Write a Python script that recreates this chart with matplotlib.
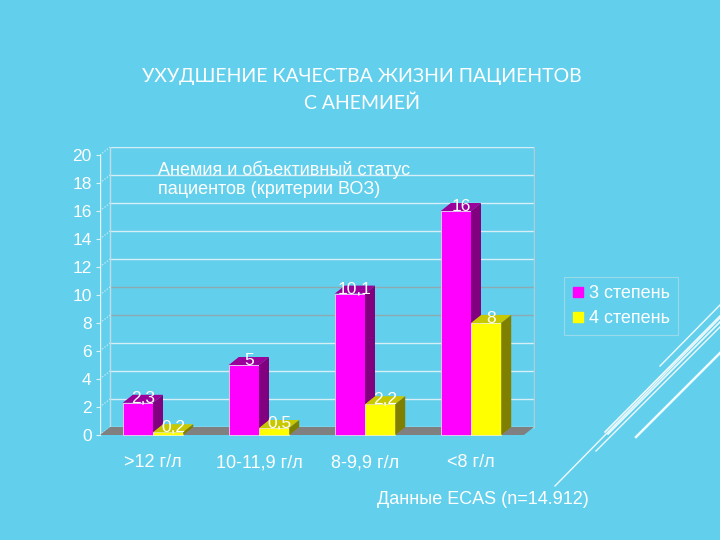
import matplotlib
matplotlib.use("Agg")
import matplotlib.pyplot as plt
from matplotlib.patches import Polygon
from matplotlib.lines import Line2D

categories = [">12 г/л", "10-11,9 г/л", "8-9,9 г/л", "<8 г/л"]
grade3 = [2.3, 5, 10.1, 16]
grade4 = [0.2, 0.5, 2.2, 8]
labels3 = ["2,3", "5", "10,1", "16"]
labels4 = ["0,2", "0,5", "2,2", "8"]
series_names = ["3 степень", "4 степень"]
yticks = [0, 2, 4, 6, 8, 10, 12, 14, 16, 18, 20]

BG = "#62d0ec"
plt.rcParams["font.family"] = ["Liberation Sans", "DejaVu Sans"]

fig = plt.figure(figsize=(7.2, 5.4), dpi=100)
fig.patch.set_facecolor(BG)

ax = fig.add_axes([100 / 720, (540 - 437.8) / 540, 434.6 / 720, 291.2 / 540])
ax.set_facecolor("none")
ax.set_xlim(-0.5, 3.6)
ax.set_ylim(-0.2, 20.6)
for s in ax.spines.values():
    s.set_visible(False)

dx = 10 / 106
dy = 8 / 14
bw = 0.285

# back wall gridlines
for v in yticks:
    col = "#d6eef6" if v not in (8, 10) else "#8fa9b2"
    ax.plot([-0.5 + dx, 3.5 + dx], [v + dy, v + dy], color=col, lw=1, zorder=1)
    ax.plot([-0.5, -0.5 + dx], [v, v + dy], color="#e0f4fa", lw=0.8, ls=":", zorder=1)
ax.plot([-0.5 + dx, -0.5 + dx], [dy, 20 + dy], color="#c0dde6", lw=1, zorder=1)
ax.plot([3.5 + dx, 3.5 + dx], [dy, 20 + dy], color="#b0ccd6", lw=1, zorder=1)
ax.plot([-0.5, -0.5], [0, 20], color="#e8f6fb", lw=1, zorder=1)

# floor
ax.add_patch(Polygon([(-0.5, 0), (3.5, 0), (3.5 + dx, dy), (-0.5 + dx, dy)],
                     closed=True, facecolor="#808080", edgecolor="none", zorder=2))


def bar3d(x0, h, front, top, side, edge):
    x1 = x0 + bw
    ax.bar(x0, h, width=bw, align="edge", color=front, edgecolor=edge, linewidth=0.6, zorder=3)
    ax.add_patch(Polygon([(x0, h), (x1, h), (x1 + dx, h + dy), (x0 + dx, h + dy)], closed=True,
                         facecolor=top, edgecolor="none", zorder=3))
    ax.add_patch(Polygon([(x1, 0), (x1 + dx, dy), (x1 + dx, h + dy), (x1, h)], closed=True,
                         facecolor=side, edgecolor="none", zorder=3))


for i in range(len(categories)):
    bar3d(i - bw, grade3[i], "#ff00ff", "#9a009a", "#800080", "#f0d0f0")
    bar3d(i, grade4[i], "#ffff00", "#c8c800", "#808000", "#f8f8c0")
    ax.text(i - bw / 2 + dx / 2, grade3[i] + dy * 0.55, labels3[i], color="white", fontsize=12.5,
            ha="center", va="center", zorder=5)
    ax.text(i + bw / 2 + dx / 2, grade4[i] + dy * 0.55, labels4[i], color="white", fontsize=12.5,
            ha="center", va="center", zorder=5)

ax.set_yticks(yticks)
ax.set_yticklabels([str(v) for v in yticks], color="white", fontsize=12.5)
ax.tick_params(axis="y", length=3, color="#e0f4fa", pad=3)
ax.set_xticks(range(len(categories)))
ax.set_xticklabels(categories, color="white", fontsize=13)
ax.tick_params(axis="x", length=0, pad=12)

# legend
handles = [Line2D([], [], marker="s", ls="none", markersize=7, markerfacecolor="#ff00ff",
                  markeredgecolor="#ff00ff"),
           Line2D([], [], marker="s", ls="none", markersize=7, markerfacecolor="#ffff00",
                  markeredgecolor="#ffff00")]
leg = fig.legend(handles, series_names, loc="center", bbox_to_anchor=(621 / 720, 1 - 306 / 540),
                 frameon=True, fontsize=13, handlelength=0.6, handletextpad=0.3,
                 labelcolor="white", borderpad=0.45, labelspacing=0.45, fancybox=False)
leg.get_frame().set_facecolor(BG)
leg.get_frame().set_edgecolor("#a8dcea")
leg.get_frame().set_linewidth(0.8)

# texts
fig.text(158 / 720, 1 - 179 / 540, "Анемия и объективный статус\nпациентов (критерии ВОЗ)",
         color="white", fontsize=13, ha="left", va="center", linespacing=1.15)
fig.text(362 / 720, 1 - 90 / 540, "УХУДШЕНИЕ КАЧЕСТВА ЖИЗНИ ПАЦИЕНТОВ\nС АНЕМИЕЙ",
         color="white", fontsize=14, ha="center", va="center", linespacing=1.6,
         family=["Lato", "DejaVu Sans"], fontweight="normal")
fig.text(377 / 720, 1 - 500 / 540, "Данные ECAS (n=14.912)", color="white", fontsize=13,
         ha="left", va="center")

# decorative lines
deco = [((660, 366), (720, 305), 1.0), ((605, 432), (720, 316), 1.2), ((608, 434), (720, 322), 1.2),
        ((596, 451), (720, 327), 1.0), ((555, 486), (720, 318), 1.0), ((636, 437), (720, 353), 1.8)]
for (x0, y0), (x1, y1), w in deco:
    fig.add_artist(Line2D([x0 / 720, x1 / 720], [1 - y0 / 540, 1 - y1 / 540], color="white", lw=w,
                          transform=fig.transFigure, alpha=0.9))

fig.savefig("out.png", dpi=100, facecolor=BG)
